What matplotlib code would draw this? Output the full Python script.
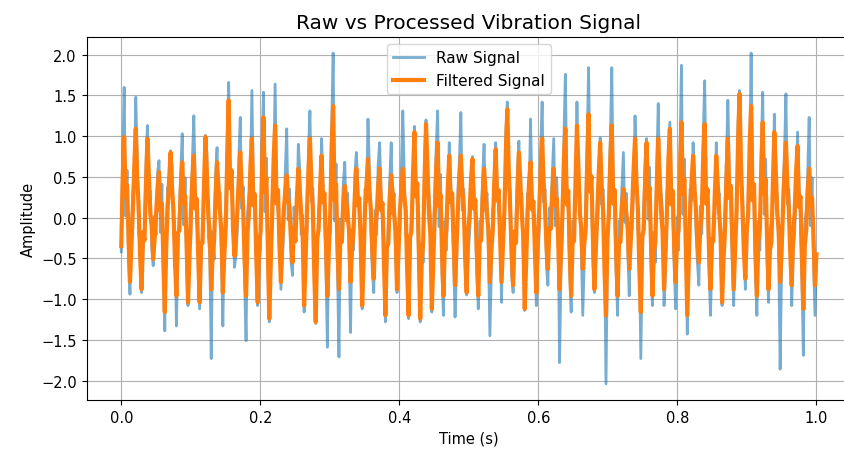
import numpy as np
import matplotlib
matplotlib.use("Agg")
import matplotlib.pyplot as plt

# Values, one row per ~60 Hz cycle (8 samples each)
filtered_signal = [
    -0.35, 0.50, 0.99, 0.25, 0.40, -0.24, -0.79, -0.36,   0.10, 0.65, 1.09, 0.49, 0.12, -0.48, -0.88, -0.18,
    -0.28, 0.39, 0.97, 0.53, 0.05, -0.10, -0.51, -0.26,   0.04, 0.36, 0.56, 0.08, 0.17, -0.52, -1.16, -0.35,
    0.12, 0.48, 0.80, 0.36, 0.08, -0.53, -0.96, -0.19,    -0.16, 0.34, 0.68, 0.17, 0.27, -0.31, -1.04, -0.47,
    0.06, 0.49, 0.76, 0.11, 0.23, -0.47, -1.04, -0.31,    -0.31, 0.40, 0.99, 0.54, 0.03, -0.18, -0.88, -0.44,
    -0.27, 0.27, 0.68, 0.37, 0.07, -0.18, -0.92, -0.46,   -0.13, 0.72, 1.44, 0.36, 0.58, -0.14, -0.47, -0.21,
    0.09, 0.48, 0.80, 0.36, 0.11, -0.53, -0.96, -0.19,    0.05, 0.63, 0.97, 0.15, 0.29, -0.47, -1.04, -0.31,
    -0.17, 0.62, 1.23, 0.31, 0.49, -0.37, -1.24, -0.56,   0.03, 0.73, 1.13, 0.17, 0.34, -0.36, -0.79, -0.24,
    0.11, 0.31, 0.52, 0.23, 0.09, -0.30, -0.55, -0.11,    -0.29, 0.24, 0.60, 0.33, 0.06, -0.22, -1.08, -0.54,
    0.10, 0.58, 0.97, 0.44, 0.10, -0.70, -1.28, -0.26,    -0.14, 0.38, 0.76, 0.19, 0.30, -0.29, -0.96, -0.43,
    0.05, 0.89, 1.37, 0.21, 0.41, -0.40, -0.88, -0.26,    -0.30, 0.16, 0.39, 0.21, 0.04, -0.16, -0.79, -0.40,
    -0.15, 0.30, 0.60, 0.15, 0.24, -0.32, -1.08, -0.49,   0.12, 0.43, 0.72, 0.32, 0.10, -0.41, -0.75, -0.15,
    0.05, 0.39, 0.60, 0.09, 0.18, -0.54, -1.20, -0.36,    -0.32, 0.21, 0.52, 0.29, 0.05, -0.18, -0.88, -0.44,
    0.08, 0.36, 0.60, 0.27, 0.10, -0.66, -1.20, -0.24,    -0.16, 0.53, 1.05, 0.26, 0.42, -0.37, -1.24, -0.56,
    -0.30, 0.46, 1.15, 0.63, 0.06, -0.22, -1.12, -0.56,   0.04, 0.60, 0.92, 0.14, 0.28, -0.43, -0.96, -0.29,
    -0.15, 0.38, 0.76, 0.19, 0.30, -0.25, -0.83, -0.37,   0.10, 0.46, 0.76, 0.34, 0.12, -0.51, -0.92, -0.18,
    0.05, 0.47, 0.72, 0.11, 0.22, -0.43, -0.96, -0.29,    -0.28, 0.24, 0.60, 0.33, 0.05, -0.16, -0.79, -0.40,
    -0.15, 0.42, 0.84, 0.21, 0.34, -0.24, -0.79, -0.36,   0.09, 0.80, 1.33, 0.60, 0.10, -0.46, -0.83, -0.17,
    -0.31, 0.32, 0.80, 0.44, 0.04, -0.22, -1.12, -0.56,   0.06, 0.44, 0.68, 0.10, 0.20, -0.41, -0.92, -0.28,
    0.10, 0.58, 0.97, 0.44, 0.11, -0.35, -0.63, -0.13,    -0.14, 0.30, 0.60, 0.15, 0.24, -0.26, -0.88, -0.40,
    0.05, 0.71, 1.09, 0.16, 0.33, -0.43, -0.96, -0.29,    -0.29, 0.45, 1.13, 0.62, 0.05, -0.13, -0.63, -0.32,
    -0.15, 0.64, 1.27, 0.32, 0.51, -0.26, -0.88, -0.40,   0.10, 0.55, 0.92, 0.41, 0.09, -0.66, -1.20, -0.24,
    0.04, 0.73, 1.13, 0.17, 0.34, -0.43, -0.96, -0.29,    -0.30, 0.14, 0.35, 0.19, 0.05, -0.13, -0.63, -0.32,
    0.11, 0.58, 0.97, 0.44, 0.10, -0.64, -1.16, -0.23,    -0.15, 0.46, 0.92, 0.23, 0.37, -0.29, -0.96, -0.43,
    -0.30, 0.39, 0.97, 0.53, 0.06, -0.18, -0.88, -0.44,   0.05, 0.71, 1.09, 0.16, 0.33, -0.36, -0.79, -0.24,
    -0.16, 0.59, 1.17, 0.29, 0.47, -0.36, -1.20, -0.54,   0.10, 0.46, 0.76, 0.34, 0.10, -0.30, -0.55, -0.11,
    0.05, 0.75, 1.15, 0.17, 0.35, -0.40, -0.88, -0.26,    -0.29, 0.30, 0.76, 0.42, 0.05, -0.21, -1.04, -0.52,
    -0.15, 0.49, 0.97, 0.24, 0.39, -0.26, -0.88, -0.40,   0.10, 0.91, 1.52, 0.68, 0.11, -0.41, -0.75, -0.15,
    0.05, 0.89, 1.37, 0.21, 0.41, -0.43, -0.96, -0.29,    -0.14, 0.59, 1.17, 0.29, 0.47, -0.26, -0.88, -0.40,
    -0.30, 0.42, 1.05, 0.58, 0.05, -0.16, -0.79, -0.40,   0.10, 0.55, 0.92, 0.41, 0.10, -0.46, -0.83, -0.17,
    0.05, 0.57, 0.88, 0.13, 0.26, -0.50, -1.12, -0.34,    -0.15, 0.30, 0.60, 0.15, 0.24, -0.25, -0.83, -0.45,
]

raw_signal = [
    -0.42, 0.71, 1.60, 0.02, 0.58, -0.51, -0.94, -0.12,   0.31, 0.42, 1.48, 0.73, -0.19, -0.30, -0.92, -0.45,
    -0.12, 0.61, 1.13, 0.30, 0.33, -0.36, -0.59, 0.02,    -0.21, 0.55, 0.70, -0.18, 0.41, -0.77, -1.39, -0.11,
    0.37, 0.29, 0.82, 0.62, -0.17, -0.31, -1.33, -0.44,   0.08, 0.57, 1.03, -0.09, 0.49, -0.58, -1.08, -0.22,
    -0.24, 0.71, 1.25, 0.37, -0.05, -0.25, -1.12, -0.60,  -0.06, 0.22, 1.01, 0.79, -0.23, -0.45, -1.73, -0.17,
    -0.51, 0.53, 0.86, 0.12, 0.31, -0.41, -1.33, -0.19,   0.11, 0.95, 1.66, 0.61, 0.32, 0.10, -0.61, -0.47,
    -0.16, 0.73, 1.23, 0.11, 0.38, -0.79, -1.51, 0.05,    0.28, 0.41, 1.56, 0.42, 0.02, -0.22, -1.08, -0.56,
    -0.38, 0.88, 1.54, 0.07, 0.73, -0.62, -1.28, -0.30,   0.29, 0.51, 1.64, 0.43, 0.08, -0.12, -0.88, -0.50,
    -0.14, 0.55, 1.09, -0.03, 0.35, -0.54, -0.71, 0.13,   -0.07, 0.02, 0.90, 0.58, -0.21, 0.03, -1.16, -0.31,
    -0.17, 0.83, 1.31, 0.19, 0.36, -0.46, -1.30, -0.52,   0.10, 0.16, 0.97, 0.45, 0.04, -0.55, -1.59, -0.18,
    -0.20, 1.13, 2.02, -0.04, 0.66, -0.63, -1.71, -0.02,  -0.05, 0.41, 0.68, -0.04, 0.30, -0.42, -1.41, -0.15,
    -0.40, 0.55, 0.80, 0.41, -0.02, -0.08, -1.12, -0.74,  0.35, 0.19, 1.21, 0.57, -0.16, -0.66, -0.92, 0.09,
    -0.21, 0.64, 0.92, 0.34, -0.08, -0.30, -1.28, -0.61,  -0.04, 0.46, 0.92, 0.04, 0.30, -0.43, -0.92, -0.19,
    -0.16, 0.61, 1.31, 0.52, -0.15, -0.41, -1.24, -0.49,  0.11, 0.28, 1.12, 0.51, 0.17, -0.62, -1.28, -0.31,
    -0.55, 0.71, 1.20, 0.38, 0.30, 0.03, -1.16, -0.31,    0.30, 0.85, 1.31, -0.11, 0.53, -0.68, -1.20, -0.04,
    -0.40, 0.13, 0.92, 0.44, 0.05, -0.50, -1.22, -0.62,   0.35, 0.71, 1.29, 0.09, 0.35, -0.26, -0.95, -0.43,
    -0.20, 0.22, 0.75, 0.36, -0.03, -0.68, -1.12, -0.04,  -0.05, 0.49, 0.90, 0.08, 0.30, -0.41, -1.45, -0.65,
    0.10, 0.17, 0.92, 0.46, 0.09, 0.01, -1.04, -0.11,     -0.15, 1.05, 1.42, 0.35, 0.35, -0.71, -0.92, -0.42,
    -0.05, 0.57, 0.94, 0.19, 0.30, -0.47, -1.14, -0.31,   0.30, 0.19, 1.21, 0.35, -0.05, -0.16, -1.08, -0.53,
    -0.15, 0.83, 1.42, 0.19, 0.35, -0.60, -0.83, 0.12,    0.10, 0.55, 0.97, -0.10, 0.49, -0.01, -1.78, -0.65,
    -0.20, 0.96, 1.76, 0.41, 0.08, -0.68, -1.16, -0.04,   -0.05, 0.20, 1.42, 0.37, 0.30, -0.38, -1.20, -0.57,
    0.10, 0.89, 1.84, 0.57, 0.26, -0.51, -0.92, -0.15,    -0.15, 0.30, 0.98, 0.16, 0.35, -0.41, -2.04, -0.49,
    0.30, 0.98, 1.84, 0.42, 0.09, -0.68, -1.20, -0.04,    -0.05, 0.39, 0.80, -0.06, 0.30, -0.38, -0.96, -0.07,
    -0.15, 0.33, 1.25, 0.69, -0.15, -0.39, -1.73, -0.48,  0.10, 0.71, 0.97, -0.02, 0.62, -0.54, -1.08, -0.18,
    -0.55, 0.64, 1.40, 0.28, 0.30, 0.07, -1.08, -0.69,    0.30, 0.46, 1.17, 0.41, 0.08, -0.61, -1.12, 0.01,
    -0.40, 0.84, 1.87, 0.04, 0.72, -0.11, -1.43, -0.29,   0.35, 0.21, 0.92, 0.59, -0.15, -0.55, -0.83, 0.14,
    -0.20, 1.00, 1.68, 0.42, 0.10, -0.65, -1.20, -0.51,   -0.05, 0.05, 0.92, 0.17, 0.30, -0.46, -1.08, -0.27,
    0.10, 0.74, 1.44, 0.49, 0.14, -0.51, -1.08, -0.15,    -0.15, 1.16, 1.56, 0.43, 0.35, -0.16, -0.88, -0.40,
    0.30, 0.64, 2.02, 0.46, 0.16, -0.68, -1.20, -0.04,    -0.40, 0.84, 1.54, 0.04, 0.72, -0.51, -1.04, -0.15,
    -0.05, 0.17, 1.27, 0.33, 0.30, -0.41, -1.86, -0.65,   0.35, 0.80, 1.52, 0.16, 0.35, -0.21, -1.08, -0.42,
    -0.20, 0.32, 1.05, 0.38, 0.01, -0.75, -1.69, -0.09,   0.10, 0.55, 1.23, -0.10, 0.49, -0.50, -1.20, -0.52,
]

# time axis: evenly spaced samples over one second
time_s = np.linspace(0, 1, len(raw_signal))

fig = plt.figure(figsize=(8.44, 4.52), dpi=100)
# axes run past the right edge, as in the (cropped) reference
ax = fig.add_axes([0.1025, 0.112, 0.906, 0.805])

ax.plot(time_s, raw_signal, color="tab:blue", alpha=0.6, lw=2.0, label="Raw Signal")
ax.plot(time_s, filtered_signal, color="tab:orange", lw=3.0, label="Filtered Signal")

ax.set_title("Raw vs Processed Vibration Signal", fontsize=14.5)
ax.set_xlabel("Time (s)", fontsize=10.5)
ax.set_ylabel("Amplitude", fontsize=10.5)
ax.tick_params(labelsize=10.5)
ax.legend(loc="upper center", fontsize=11)
ax.grid(True)

fig.savefig("out.png", dpi=100)
